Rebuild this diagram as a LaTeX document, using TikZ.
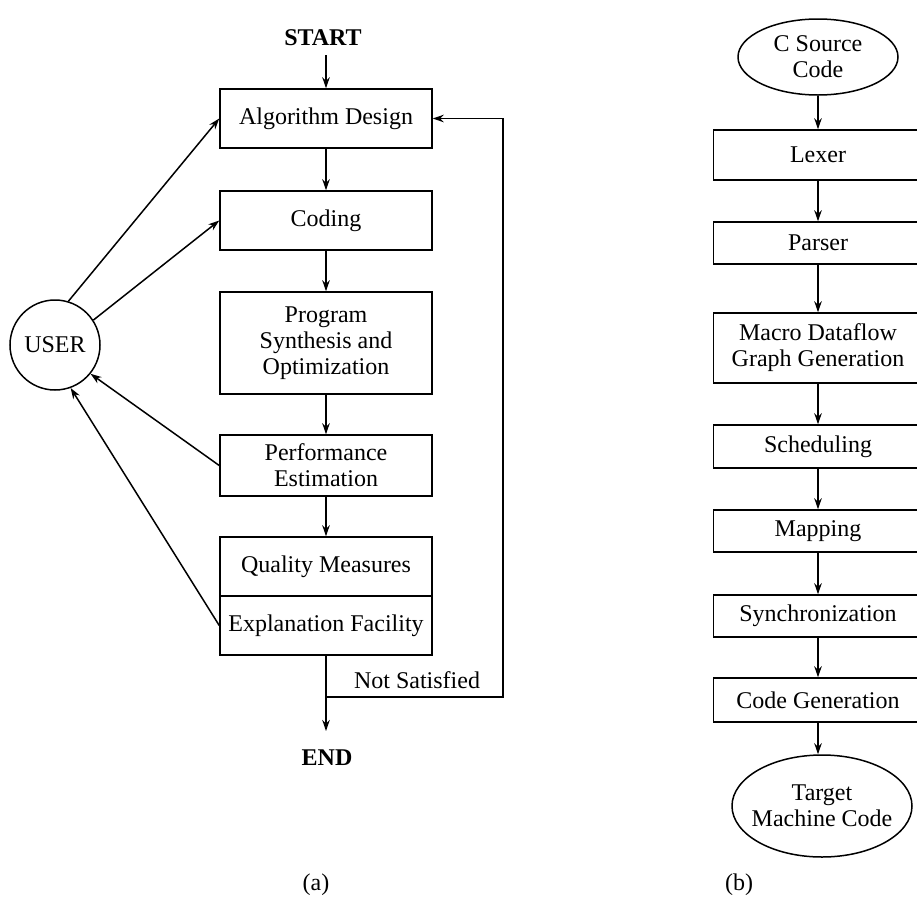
\documentclass[tikz,border=0pt]{standalone}
\usepackage{fontspec}
\setmainfont{Liberation Serif}
\usetikzlibrary{arrows.meta,shapes.geometric}

\tikzset{
  txt/.style={font=\fontsize{24}{26}\selectfont, align=center, inner sep=0pt},
  boldtxt/.style={txt, font=\fontsize{24}{26}\selectfont\bfseries},
  stagebox/.style={txt, draw, line width=1.5pt, minimum width=#1},
  leftbox/.style={stagebox=212pt},
  rightbox/.style={stagebox=209pt},
  oval/.style={draw, ellipse, line width=1.5pt, inner sep=0pt},
  arr/.style={line width=1.5pt, -{Stealth[length=11pt,width=7.5pt]}}
}

\begin{document}
\begin{tikzpicture}[x=1pt, y=-1pt]
\useasboundingbox (0,0) rectangle (917,919);
\clip (0,0) rectangle (917,919);

% ---------- (a) design flow ----------
\node[boldtxt] (start) at (323,38) {START};
\node[leftbox, minimum height=59pt] (algo) at (326,118.5) {Algorithm Design};
\node[leftbox, minimum height=59pt] (coding) at (326,220.5) {Coding};
\node[leftbox, minimum height=102pt] (prog) at (326,343) {Program\\Synthesis and\\ Optimization};
\node[leftbox, minimum height=61pt] (perf) at (326,465.5) {Performance\\Estimation};
\node[leftbox, minimum height=59pt] (qual) at (326,566.5) {Quality Measures};
\node[leftbox, minimum height=59pt] (expl) at (326,625.5) {Explanation Facility};
\node[boldtxt] (endn) at (327,758) {END};
\node[txt, circle, draw, line width=1.5pt, minimum size=90pt] (user) at (55,345) {USER};

\draw[arr] (algo.north |- start.south) ++(0,9) -- (algo.north);
\draw[arr] (algo) -- (coding);
\draw[arr] (coding) -- (prog);
\draw[arr] (prog) -- (perf);
\draw[arr] (perf) -- (qual);

% exit and feedback loop
\coordinate (split) at (expl.south |- 0,697);
\coordinate (fbx) at (503,697);
\coordinate (endtip) at (expl.south |- 0,731);
\draw[arr] (expl.south) -- (endtip);
\draw[arr] (split) -- (fbx) |- (algo.east);
\node[txt] (ns) at (417,680) {Not Satisfied};

% user interaction
\draw[arr] (user.73) -- (algo.west);
\draw[arr] (user.33) -- (coding.west);
\draw[arr] (perf.west) -- (user.-39);
\draw[arr] (expl.west) -- (user.-70);

\node[txt] (capa) at (316,885) {(a)};

% ---------- (b) compiler flow ----------
\node[oval, minimum width=160pt, minimum height=76pt] (src) at (818,57) {};
\node[txt] at (src) {C Source\\Code};
\node[rightbox, minimum height=50pt] (lexer) at (818,155) {Lexer};
\node[rightbox, minimum height=42pt] (parser) at (818,243) {Parser};
\node[rightbox, minimum height=70pt] (macro) at (818,348) {Macro Dataflow\\Graph Generation};
\node[rightbox, minimum height=43pt] (sched) at (818,446.5) {Scheduling};
\node[rightbox, minimum height=42pt] (mapn) at (818,531) {Mapping};
\node[rightbox, minimum height=42pt] (sync) at (818,616) {Synchronization};
\node[rightbox, minimum height=44pt] (cgen) at (818,700) {Code Generation};
\node[oval, minimum width=180pt, minimum height=102pt] (tgt) at (822,806) {};
\node[txt] at (tgt) {Target\\Machine Code};

\draw[arr] (src) -- (lexer);
\draw[arr] (lexer) -- (parser);
\draw[arr] (parser) -- (macro);
\draw[arr] (macro) -- (sched);
\draw[arr] (sched) -- (mapn);
\draw[arr] (mapn) -- (sync);
\draw[arr] (sync) -- (cgen);
\draw[arr] (cgen.south) -- (cgen.south |- tgt.north);

\node[txt] (capb) at (739,885) {(b)};
\end{tikzpicture}
\end{document}
